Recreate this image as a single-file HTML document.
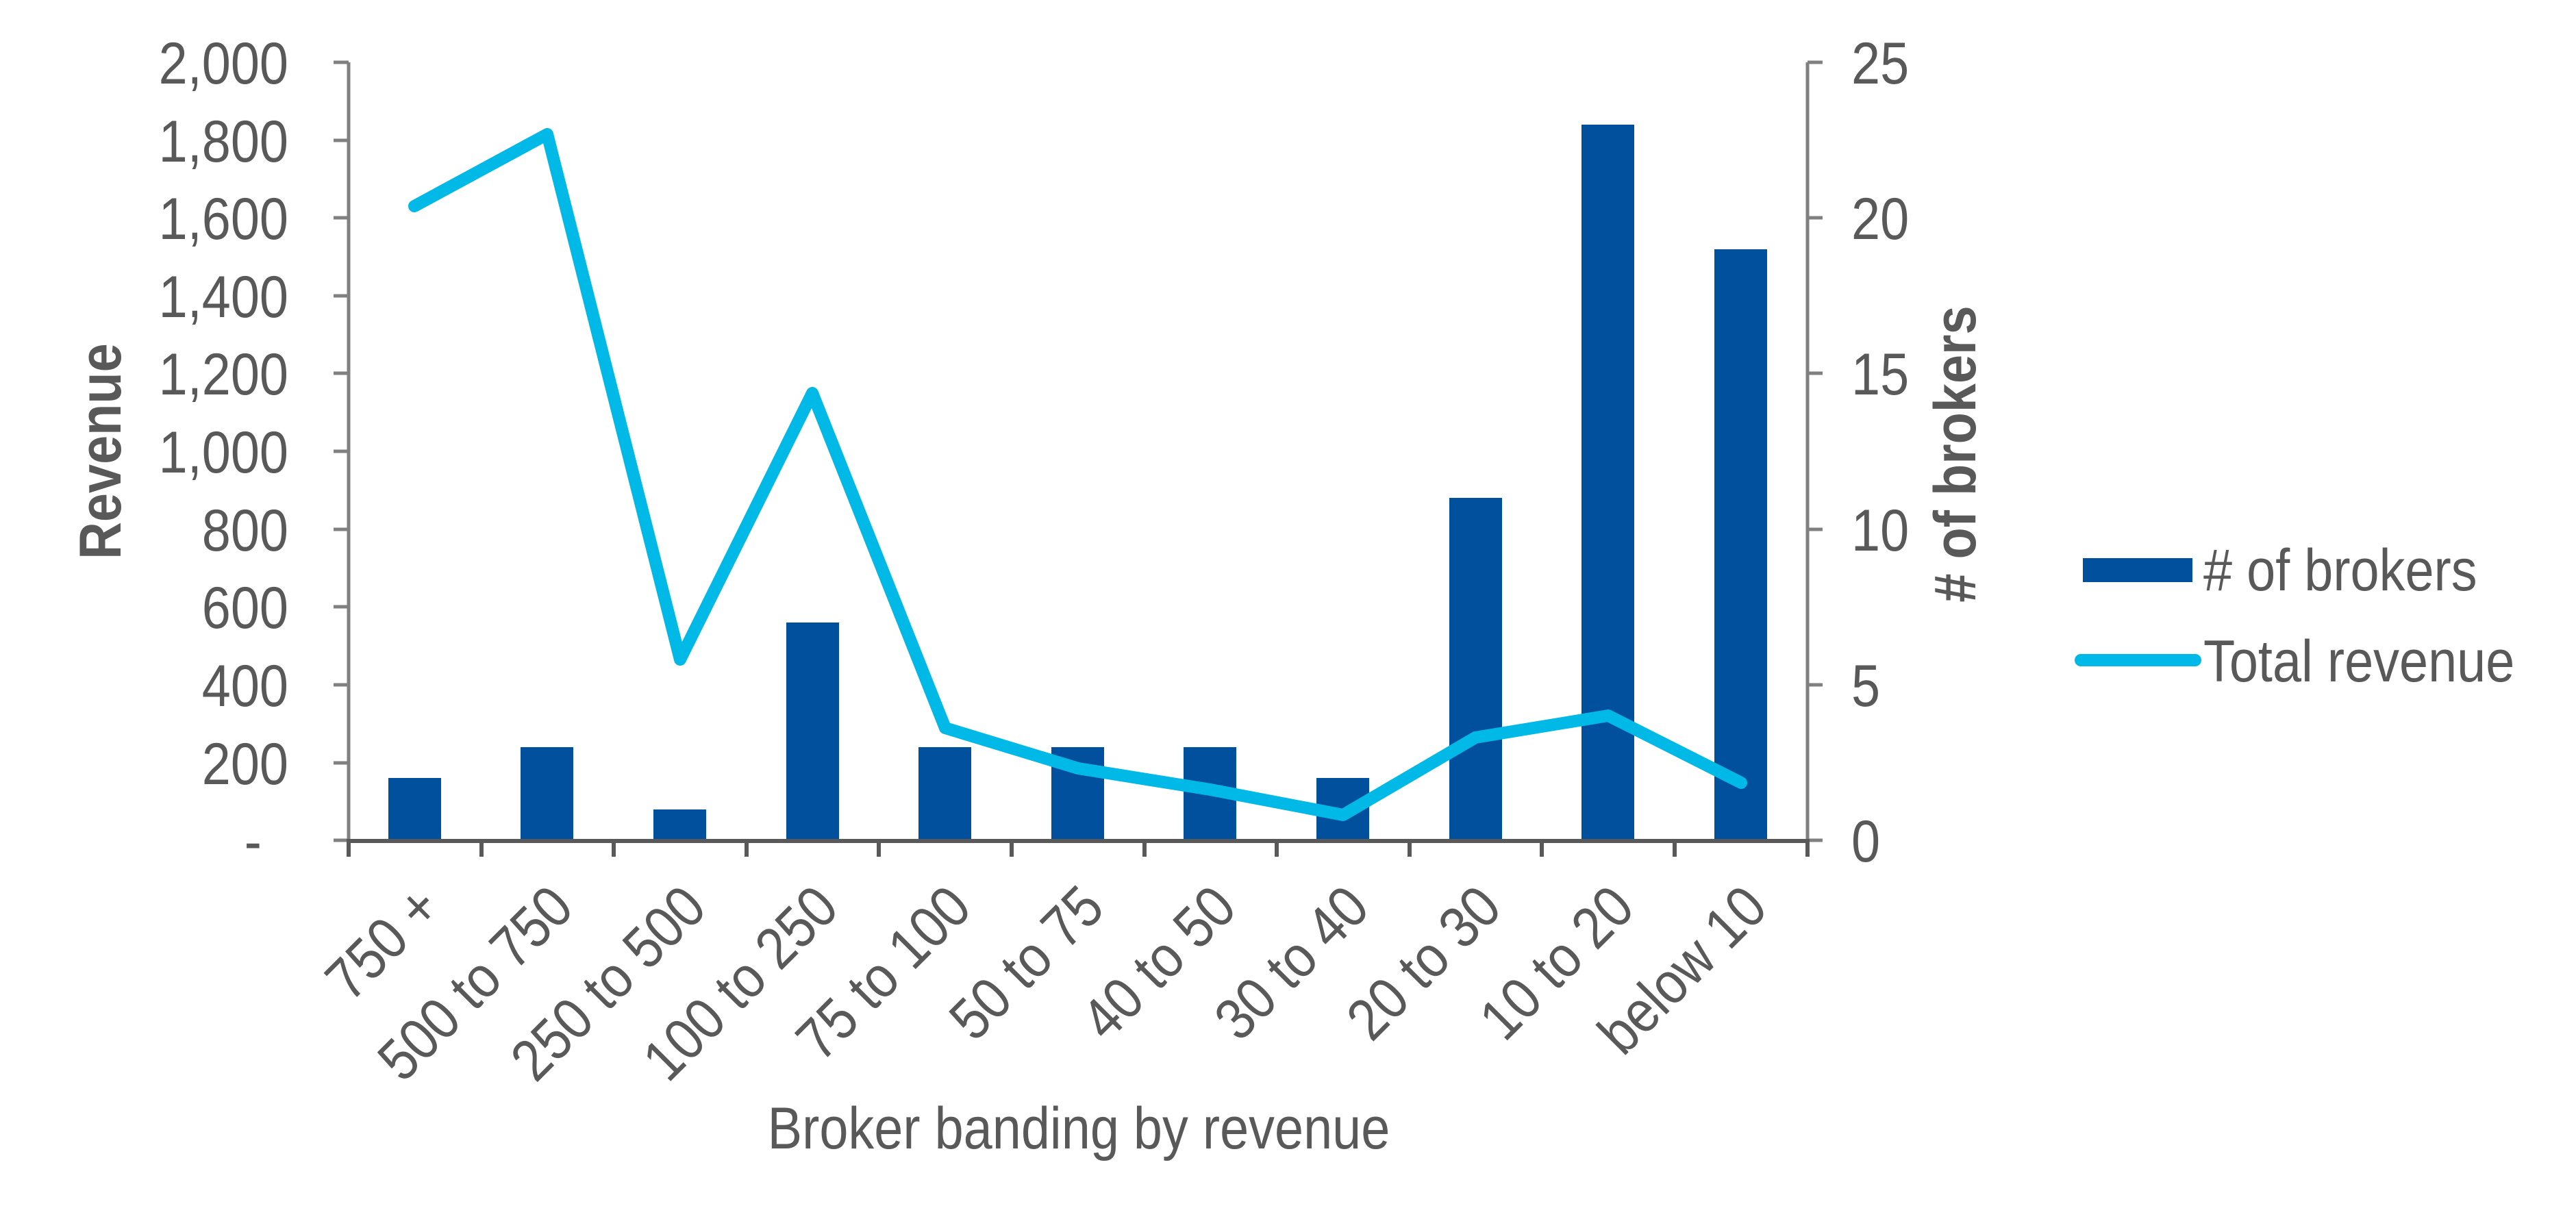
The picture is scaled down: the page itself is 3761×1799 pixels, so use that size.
<!DOCTYPE html>
<html><head><meta charset="utf-8"><style>
html,body{margin:0;padding:0;background:#fff;}
svg{display:block;}
text{font-family:"Liberation Sans",Arial,sans-serif;fill:#595959;}
</style></head><body>
<svg width="3761" height="1799" viewBox="0 0 3761 1799" xmlns="http://www.w3.org/2000/svg">
<rect width="3761" height="1799" fill="#fff"/>
<g fill="#00509E">
<rect x="567" y="1136" width="77" height="91"/>
<rect x="760" y="1091" width="77" height="136"/>
<rect x="954" y="1182" width="77" height="45"/>
<rect x="1148" y="909" width="77" height="318"/>
<rect x="1341" y="1091" width="77" height="136"/>
<rect x="1535" y="1091" width="77" height="136"/>
<rect x="1728" y="1091" width="77" height="136"/>
<rect x="1922" y="1136" width="77" height="91"/>
<rect x="2116" y="727" width="77" height="500"/>
<rect x="2309" y="182" width="77" height="1045"/>
<rect x="2503" y="364" width="77" height="863"/>
</g>
<g stroke="#808080" stroke-width="5" fill="none">
<line x1="509" y1="91" x2="509" y2="1230"/>
<line x1="2639" y1="91" x2="2639" y2="1230"/>
<path d="M487 91H509M487 205H509M487 318H509M487 432H509M487 545H509M487 659H509M487 773H509M487 886H509M487 1000H509M487 1114H509M487 1227H509"/>
<path d="M2639 91H2661M2639 318H2661M2639 545H2661M2639 773H2661M2639 1000H2661M2639 1227H2661"/>
</g>
<g stroke="#595959" stroke-width="6" fill="none">
<line x1="506" y1="1228" x2="2642" y2="1228"/>
<path d="M509 1228V1251M703 1228V1251M896 1228V1251M1090 1228V1251M1283 1228V1251M1477 1228V1251M1671 1228V1251M1864 1228V1251M2058 1228V1251M2251 1228V1251M2445 1228V1251M2639 1228V1251"/>
</g>
<polyline fill="none" stroke="#00B9E6" stroke-width="18" stroke-linejoin="round" stroke-linecap="round"
 points="605,301 799,196 993,963 1186,574 1380,1063 1574,1122 1767,1153 1961,1190 2154,1077 2348,1045 2542,1143"/>
<g font-size="86" text-anchor="end">
<text transform="translate(421,122) scale(0.88,1)">2,000</text>
<text transform="translate(421,236) scale(0.88,1)">1,800</text>
<text transform="translate(421,349) scale(0.88,1)">1,600</text>
<text transform="translate(421,463) scale(0.88,1)">1,400</text>
<text transform="translate(421,576) scale(0.88,1)">1,200</text>
<text transform="translate(421,690) scale(0.88,1)">1,000</text>
<text transform="translate(421,804) scale(0.88,1)">800</text>
<text transform="translate(421,917) scale(0.88,1)">600</text>
<text transform="translate(421,1031) scale(0.88,1)">400</text>
<text transform="translate(421,1145) scale(0.88,1)">200</text>
<text transform="translate(382,1258) scale(0.88,1)">-</text>
</g>
<g font-size="86" text-anchor="start">
<text transform="translate(2703,122) scale(0.88,1)">25</text>
<text transform="translate(2703,349) scale(0.88,1)">20</text>
<text transform="translate(2703,576) scale(0.88,1)">15</text>
<text transform="translate(2703,804) scale(0.88,1)">10</text>
<text transform="translate(2703,1031) scale(0.88,1)">5</text>
<text transform="translate(2703,1258) scale(0.88,1)">0</text>
</g>
<text font-size="86" font-weight="bold" text-anchor="middle" transform="translate(176,659) rotate(-90) scale(0.88,1)">Revenue</text>
<text font-size="86" font-weight="bold" text-anchor="middle" transform="translate(2884,663) rotate(-90) scale(0.88,1)"># of brokers</text>
<text font-size="86" text-anchor="middle" transform="translate(1575,1677) scale(0.88,1)">Broker banding by revenue</text>
<g font-size="86" text-anchor="end">
<text transform="translate(647,1330) rotate(-45) scale(0.88,1)">750 +</text>
<text transform="translate(841,1330) rotate(-45) scale(0.88,1)">500 to 750</text>
<text transform="translate(1035,1330) rotate(-45) scale(0.88,1)">250 to 500</text>
<text transform="translate(1228,1330) rotate(-45) scale(0.88,1)">100 to 250</text>
<text transform="translate(1422,1330) rotate(-45) scale(0.88,1)">75 to 100</text>
<text transform="translate(1616,1330) rotate(-45) scale(0.88,1)">50 to 75</text>
<text transform="translate(1809,1330) rotate(-45) scale(0.88,1)">40 to 50</text>
<text transform="translate(2003,1330) rotate(-45) scale(0.88,1)">30 to 40</text>
<text transform="translate(2196,1330) rotate(-45) scale(0.88,1)">20 to 30</text>
<text transform="translate(2390,1330) rotate(-45) scale(0.88,1)">10 to 20</text>
<text transform="translate(2584,1330) rotate(-45) scale(0.88,1)">below 10</text>
</g>
<rect x="3041" y="815" width="160" height="35" fill="#00509E"/>
<text font-size="86" transform="translate(3217,862) scale(0.88,1)"># of brokers</text>
<line x1="3038" y1="964" x2="3205" y2="964" stroke="#00B9E6" stroke-width="18" stroke-linecap="round"/>
<text font-size="86" transform="translate(3217,995) scale(0.88,1)">Total revenue</text>
</svg>
</body></html>
